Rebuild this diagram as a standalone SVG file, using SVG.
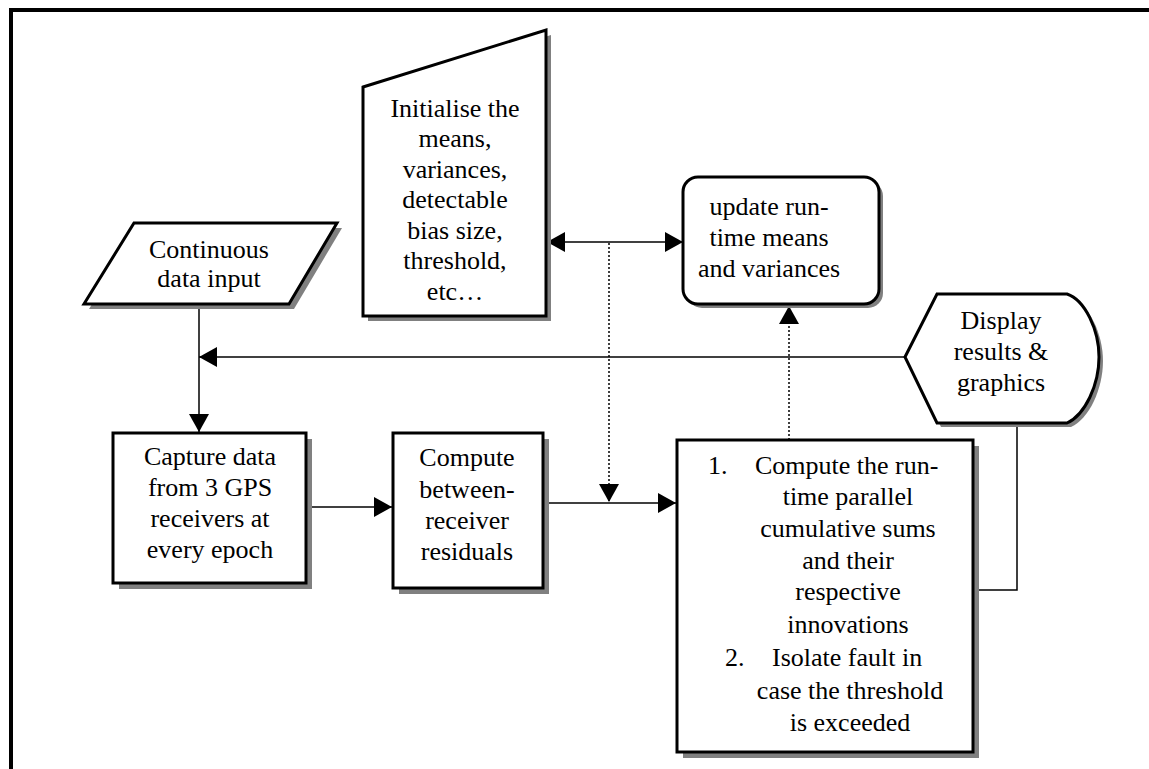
<svg xmlns="http://www.w3.org/2000/svg" width="1149" height="769" viewBox="0 0 1149 769">
  <style>
    .frame { fill: none; stroke: #000; stroke-width: 4; }
    .shape { fill: #fff; stroke: #000; stroke-width: 3; stroke-linejoin: miter; }
    .shadow { fill: #808080; stroke: none; }
    .conn { fill: none; stroke: #000; stroke-width: 1.5; }
    .dot { fill: none; stroke: #000; stroke-width: 1.5; stroke-dasharray: 2 2; }
    text { font-family: "Liberation Serif", "Times New Roman", serif; font-size: 26px; fill: #000; }
    .c { text-anchor: middle; }
  </style>
  <defs>
    <marker id="arrow" markerUnits="userSpaceOnUse" markerWidth="18" markerHeight="20" refX="18" refY="10" orient="auto-start-reverse">
      <path d="M0,0 L18,10 L0,20 Z" fill="#000"/>
    </marker>
  </defs>

  <!-- page frame -->
  <g id="frame">
    <path class="frame" d="M11,769 L11,10 L1149,10"/>
  </g>

  <!-- connectors -->
  <g id="connectors">
    <line class="conn" x1="547" y1="242" x2="683" y2="242" marker-start="url(#arrow)" marker-end="url(#arrow)"/>
    <line class="dot" x1="609" y1="243" x2="609" y2="502" marker-end="url(#arrow)"/>
    <line class="conn" x1="905" y1="357" x2="199" y2="357" marker-end="url(#arrow)"/>
    <line class="conn" x1="199" y1="304" x2="199" y2="432" marker-end="url(#arrow)"/>
    <line class="conn" x1="303" y1="507" x2="392" y2="507" marker-end="url(#arrow)"/>
    <line class="conn" x1="543" y1="503" x2="676" y2="503" marker-end="url(#arrow)"/>
    <line class="dot" x1="789" y1="440" x2="789" y2="306" marker-end="url(#arrow)"/>
    <polyline class="conn" points="1017,423 1017,590 972,590"/>
  </g>

  <!-- data input -->
  <g id="node-input">
    <polygon class="shadow" points="139,228 342,228 294,309 89,309"/>
    <polygon class="shape" points="134,223 337,223 289,304 84,304"/>
    <text class="c" x="209" y="258">Continuous</text>
    <text class="c" x="209" y="287">data input</text>
  </g>

  <!-- manual input: initial values -->
  <g id="node-init">
    <polygon class="shadow" points="368,92 551,35 551,321 368,321"/>
    <polygon class="shape" points="363,87 546,30 546,316 363,316"/>
    <text class="c" x="455" y="117">Initialise the</text>
    <text class="c" x="455" y="147">means,</text>
    <text class="c" x="455" y="178">variances,</text>
    <text class="c" x="455" y="208">detectable</text>
    <text class="c" x="455" y="239">bias size,</text>
    <text class="c" x="455" y="269">threshold,</text>
    <text class="c" x="455" y="300">etc…</text>
  </g>

  <!-- running statistics update -->
  <g id="node-update">
    <rect class="shadow" x="687" y="181" width="196" height="127" rx="15" ry="15"/>
    <rect class="shape" x="683" y="177" width="196" height="127" rx="15" ry="15"/>
    <text class="c" x="769" y="215">update run-</text>
    <text class="c" x="769" y="246">time means</text>
    <text class="c" x="769" y="277">and variances</text>
  </g>

  <!-- display -->
  <g id="node-display">
    <path class="shadow" d="M909,361 L941,298 L1071,298 C1089,304 1103,334 1103,361 C1103,389 1089,419 1071,427 L941,427 Z"/>
    <path class="shape" d="M905,357 L937,294 L1067,294 C1085,300 1099,330 1099,357 C1099,385 1085,415 1067,423 L937,423 Z"/>
    <text class="c" x="1001" y="329">Display</text>
    <text class="c" x="1001" y="360">results &amp;</text>
    <text class="c" x="1001" y="391">graphics</text>
  </g>

  <!-- data capture -->
  <g id="node-capture">
    <rect class="shadow" x="119" y="439" width="193" height="150"/>
    <rect class="shape" x="113" y="433" width="193" height="150"/>
    <text class="c" x="210" y="465">Capture data</text>
    <text class="c" x="210" y="496">from 3 GPS</text>
    <text class="c" x="210" y="527">receivers at</text>
    <text class="c" x="210" y="558">every epoch</text>
  </g>

  <!-- residuals -->
  <g id="node-residuals">
    <rect class="shadow" x="399" y="439" width="150" height="155"/>
    <rect class="shape" x="393" y="433" width="150" height="155"/>
    <text class="c" x="467" y="466">Compute</text>
    <text class="c" x="467" y="498">between-</text>
    <text class="c" x="467" y="529">receiver</text>
    <text class="c" x="467" y="560">residuals</text>
  </g>

  <!-- cumulative sums and fault isolation -->
  <g id="node-cusum">
    <rect class="shadow" x="683" y="446" width="296" height="312"/>
    <rect class="shape" x="677" y="440" width="296" height="312"/>
    <text x="708" y="474">1.</text>
    <text x="755" y="474">Compute the run-</text>
    <text class="c" x="848" y="505">time parallel</text>
    <text class="c" x="848" y="537">cumulative sums</text>
    <text class="c" x="848" y="569">and their</text>
    <text class="c" x="848" y="600">respective</text>
    <text class="c" x="848" y="633">innovations</text>
    <text x="725" y="666">2.</text>
    <text x="772" y="666">Isolate fault in</text>
    <text class="c" x="850" y="699">case the threshold</text>
    <text class="c" x="850" y="731">is exceeded</text>
  </g>
</svg>
